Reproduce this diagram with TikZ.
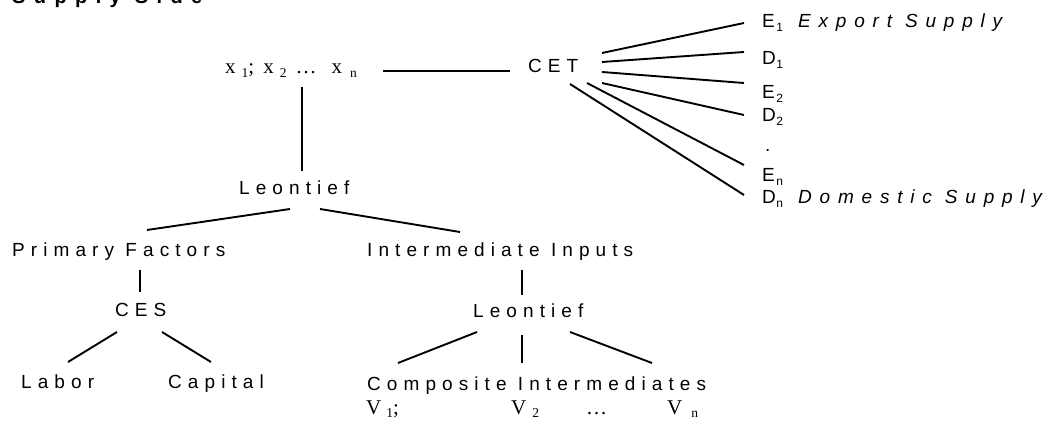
\documentclass[tikz,border=0pt]{standalone}
\usepackage{fontspec}
\setmainfont{Liberation Sans}
\newfontfamily\spaced[LetterSpace=32]{Liberation Sans}
\newfontfamily\spacedi[LetterSpace=41]{Liberation Sans Italic}
\newfontfamily\spacedb[LetterSpace=42]{Liberation Sans Bold}
\newfontfamily\serif{Liberation Serif}
\newcommand\lowsub[1]{\raisebox{-3.5pt}{\normalfont\fontsize{12}{12}\selectfont #1}}
\newcommand\lowsubs[1]{\raisebox{-3.5pt}{\serif\fontsize{13.5}{13.5}\selectfont #1}}
\tikzset{
  lbl/.style={anchor=base west, inner sep=0pt, font=\spaced\fontsize{19}{19}\selectfont},
  ital/.style={anchor=base west, inner sep=0pt, font=\spacedi\fontsize{19}{19}\selectfont},
  ser/.style={anchor=base west, inner sep=0pt, font=\serif\fontsize{21}{21}\selectfont},
  ttl/.style={anchor=base west, inner sep=0pt, font=\spacedb\fontsize{20}{20}\selectfont},
  conn/.style={line width=1.9pt}
}
\begin{document}
\begin{tikzpicture}[x=1pt,y=-1pt]
\useasboundingbox (0,0) rectangle (1045,425);
% title (cut off at top)
\node[ttl] (title) at (12,3.5) {Supply Side};
% top row
\node[ser] (xs) at (225,74) {x\hspace{6pt}\lowsubs{1};\hspace{9pt}x\hspace{6pt}\lowsubs{2}\hspace{9pt}…\hspace{15pt}x\hspace{8pt}\lowsubs{n}};
\node[lbl] (cet) at (528,73) {CET};
% outputs
\node[lbl] (e1) at (762,28) {E\hspace{1.5pt}\lowsub{1}};
\node[ital] (exp) at (798,28) {Export Supply};
\node[lbl] (d1) at (762,65) {D\hspace{0.5pt}\lowsub{1}};
\node[lbl] (e2) at (762,99) {E\hspace{1.5pt}\lowsub{2}};
\node[lbl] (d2) at (762,122) {D\hspace{0.5pt}\lowsub{2}};
\node[lbl] (dot) at (765,152) {.};
\node[lbl] (en) at (762,182) {E\hspace{1.5pt}\lowsub{n}};
\node[lbl] (dn) at (762,204) {D\hspace{0.5pt}\lowsub{n}};
\node[ital] (dom) at (798,204) {Domestic Supply};
% tree
\node[lbl] (leo1) at (239,194) {Leontief};
\node[lbl] (pf) at (12,256) {Primary Factors};
\node[lbl] (ii) at (367,256) {Intermediate Inputs};
\node[lbl] (ces) at (115,316) {CES};
\node[lbl] (leo2) at (473,317) {Leontief};
\node[lbl] (lab) at (21,388) {Labor};
\node[lbl] (cap) at (168,388) {Capital};
\node[lbl] (ci) at (367,390) {Composite Intermediates};
\node[ser] (v1) at (366,414) {V\hspace{5pt}\lowsubs{1};};
\node[ser] (v2) at (511,414) {V\hspace{6pt}\lowsubs{2}};
\node[ser] (vd) at (586,414) {…};
\node[ser] (vn) at (667,414) {V\hspace{9pt}\lowsubs{n}};
% connector end points
\coordinate (xs-r) at (383,71);  \coordinate (cet-l) at (510,71);
\coordinate (xs-b) at (302,87);  \coordinate (leo1-t) at (302,171);
\coordinate (leo1-l) at (290,209); \coordinate (pf-t) at (147,230);
\coordinate (leo1-r) at (320,209); \coordinate (ii-t) at (460,232);
\coordinate (pf-b) at (140,270); \coordinate (ces-t) at (140,292);
\coordinate (ces-l) at (117,332); \coordinate (lab-t) at (68,362);
\coordinate (ces-r) at (162,332); \coordinate (cap-t) at (211,362);
\coordinate (ii-b) at (522,270); \coordinate (leo2-t) at (522,295);
\coordinate (leo2-l) at (477,332); \coordinate (ci-tl) at (398,363);
\coordinate (leo2-m) at (522,335); \coordinate (ci-tm) at (522,363);
\coordinate (leo2-r) at (570,332); \coordinate (ci-tr) at (652,363);
\coordinate (cet-1) at (602,53); \coordinate (e1-l) at (744,23);
\coordinate (cet-2) at (602,62); \coordinate (d1-l) at (744,52);
\coordinate (cet-3) at (602,72); \coordinate (e2-l) at (744,83);
\coordinate (cet-4) at (602,83); \coordinate (d2-l) at (744,115);
\coordinate (cet-5) at (587,83); \coordinate (en-l) at (744,165);
\coordinate (cet-6) at (570,84); \coordinate (dn-l) at (744,195);
% connectors
\draw[conn] (xs-r) -- (cet-l);
\draw[conn] (xs-b) -- (leo1-t);
\draw[conn] (leo1-l) -- (pf-t);
\draw[conn] (leo1-r) -- (ii-t);
\draw[conn] (pf-b) -- (ces-t);
\draw[conn] (ces-l) -- (lab-t);
\draw[conn] (ces-r) -- (cap-t);
\draw[conn] (ii-b) -- (leo2-t);
\draw[conn] (leo2-l) -- (ci-tl);
\draw[conn] (leo2-m) -- (ci-tm);
\draw[conn] (leo2-r) -- (ci-tr);
\draw[conn] (cet-1) -- (e1-l);
\draw[conn] (cet-2) -- (d1-l);
\draw[conn] (cet-3) -- (e2-l);
\draw[conn] (cet-4) -- (d2-l);
\draw[conn] (cet-5) -- (en-l);
\draw[conn] (cet-6) -- (dn-l);
\end{tikzpicture}
\end{document}
